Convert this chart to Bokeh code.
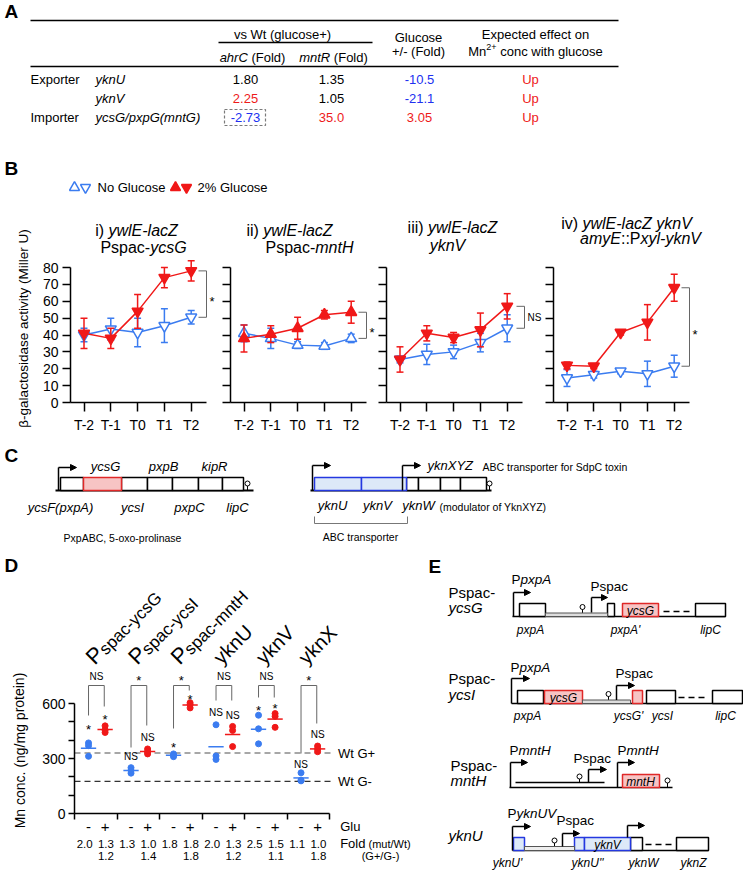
import math
from bokeh.plotting import figure
from bokeh.models import Range1d, LinearAxis, FixedTicker, ColumnDataSource, Arrow, NormalHead
from bokeh.core.properties import value, field
from bokeh.embed import file_html
from bokeh.resources import INLINE

# ======================= DATA =======================
# --- Panel A (table) ---
a_class = ["Exporter", "", "Importer"]
a_gene = ["yknU", "yknV", "ycsG/pxpG(mntG)"]
a_ahrC = ["1.80", "2.25", "-2.73"]
a_mntR = ["1.35", "1.05", "35.0"]
a_glucose = ["-10.5", "-21.1", "3.05"]
a_effect = ["Up", "Up", "Up"]
a_ahrC_sign = [0, 1, -1]
a_mntR_sign = [0, 0, 1]
a_glucose_sign = [-1, -1, 1]
a_effect_sign = [1, 1, 1]

# --- Panel B (beta-galactosidase, Miller U) ---
timepoints = ["T-2", "T-1", "T0", "T1", "T2"]
b_no_glc = [[40, 43.5, 41.5, 45.5, 50.5], [41, 38, 34, 33.5, 38],
            [25.5, 28.5, 30, 35.5, 44], [14.5, 16.5, 18.5, 17, 21.5]]
b_no_glc_err = [[4, 6.5, 8.5, 10, 4], [5, 6, 2, 2, 2.5],
                [2, 6, 4, 5.5, 8], [5, 2, 1.5, 7.5, 6.5]]
b_glc = [[41, 38, 54, 74, 78], [38, 40.5, 44, 52, 53.5],
         [25.5, 41, 38.5, 43, 57], [22, 21.5, 41.5, 47.5, 68]]
b_glc_err = [[9, 6, 10, 6, 6], [8, 5, 6.5, 2.5, 6.5],
             [7.5, 4.5, 3, 10, 7.5], [2, 1.5, 1.5, 10.5, 8]]
b_marker = ["inverted_triangle", "triangle", "inverted_triangle", "inverted_triangle"]
b_sig = ["*", "*", "NS", "*"]
b_yticks = [0, 10, 20, 30, 40, 50, 60, 70, 80]
b_title = [
    ([("i) ", "normal"), ("ywlE-lacZ", "italic")], [("Pspac-", "normal"), ("ycsG", "italic")]),
    ([("ii) ", "normal"), ("ywlE-lacZ", "italic")], [("Pspac-", "normal"), ("mntH", "italic")]),
    ([("iii) ", "normal"), ("ywlE-lacZ", "italic")], [("yknV", "italic")]),
    ([("iv) ", "normal"), ("ywlE-lacZ yknV", "italic")],
     [("amyE", "italic"), ("::P", "normal"), ("xyl-yknV", "italic")]),
]

# --- Panel D (Mn conc., ng/mg protein) ---
d_strain_P = ["P", "P", "P", "", "", ""]
d_strain = ["spac-ycsG", "spac-ycsI", "spac-mntH", "yknU", "yknV", "yknX"]
d_no_glc = [[385, 370, 312], [250, 235, 220], [325, 318, 310],
            [484, 314, 295], [536, 462, 380], [222, 182, 178]]
d_glc = [[478, 455, 442], [352, 337, 325], [604, 594, 576],
         [475, 453, 365], [545, 530, 470], [368, 352, 337]]
d_fold_minus = ["2.0", "1.3", "1.8", "2.0", "2.5", "1.1"]
d_fold_plus = ["1.3", "1.0", "1.8", "1.3", "1.5", "1.0"]
d_fold_g = ["1.2", "1.4", "1.8", "1.2", "1.1", "1.8"]
d_sig_top = ["NS", "*", "*", "NS", "NS", "*"]
d_sig_minus = ["*", "NS", "*", "NS", "*", "NS"]
d_sig_plus = ["*", "NS", "*", "NS", "*", "NS"]
d_wt_gplus = 330
d_wt_gminus = 175
d_yticks = [0, 100, 200, 300, 400, 500, 600]
d_ylabels = {100: "", 200: "", 400: "", 500: ""}

# ======================= STYLE =======================
FONT = "Liberation Sans"
BLUE = "#3b7cf0"
RED = "#f01818"
TBLUE = "#2030f0"
TRED = "#ee1a1a"
PINK_F, PINK_L = "#f7c4c4", "#e02828"
LB_F, LB_L = "#dde9f8", "#2438e0"

W, H = 743, 871
X0, Y0 = 0, 0

p = figure(width=W, height=H, x_range=Range1d(X0, X0 + W), y_range=Range1d(Y0 + H, Y0),
           x_axis_type=None, y_axis_type=None, toolbar_location=None,
           output_backend="svg", min_border=0, outline_line_color=None)
p.background_fill_color = "white"
p.border_fill_color = "white"

# ---------- Arial-like advance widths ----------
AW = dict(zip(" !\"#$%&'()*+,-./", [278, 278, 355, 556, 556, 889, 667, 191, 333, 333, 389, 584, 278, 333, 278, 278]))
AW.update({c: 556 for c in "0123456789"})
AW.update(dict(zip(":;<=>?@", [278, 278, 584, 584, 584, 556, 1015])))
AW.update(dict(zip("ABCDEFGHIJKLMNOPQRSTUVWXYZ",
                   [667, 667, 722, 722, 667, 611, 778, 722, 278, 500, 667, 556, 833, 722, 778, 667, 778, 722, 667, 611, 722, 667, 944, 667, 667, 611])))
AW.update(dict(zip("abcdefghijklmnopqrstuvwxyz",
                   [556, 556, 500, 556, 556, 278, 556, 556, 222, 222, 500, 222, 833, 556, 556, 556, 556, 333, 500, 278, 556, 500, 722, 500, 500, 500])))
AW["β"] = 572


def tw(s, size):
    return sum(AW.get(c, 556) for c in s) * size / 1000.0


TXT = {}


def put(x, y, s, size=13, style="normal", color="black", align="left", baseline="middle",
        angle=0.0, xr="default", yr="default"):
    d = TXT.setdefault((xr, yr), dict(x=[], y=[], text=[], size=[], style=[], color=[],
                                      align=[], baseline=[], angle=[]))
    d["x"].append(x); d["y"].append(y); d["text"].append(s)
    d["size"].append(f"{size}px"); d["style"].append(style); d["color"].append(color)
    d["align"].append(align); d["baseline"].append(baseline); d["angle"].append(angle)


def rich(x, y, segs, size=13, align="center", color="black", baseline="middle",
         xr="default", yr="default", unit=1.0):
    items = []
    for s in segs:
        txt, sty = s[0], s[1]
        sz = s[2] if len(s) > 2 else size
        dy = s[3] if len(s) > 3 else 0
        col = s[4] if len(s) > 4 else color
        items.append((txt, sty, sz, dy, col, tw(txt, sz)))
    total = sum(i[5] for i in items)
    off = total / 2 if align == "center" else (total if align == "right" else 0)
    cur = x - off / unit
    for txt, sty, sz, dy, col, w in items:
        lead = len(txt) - len(txt.lstrip(" "))
        shown = txt.strip(" ")
        if shown:
            put(cur + tw(" " * lead, sz) / unit, y + dy, shown, size=sz, style=sty, color=col,
                align="left", baseline=baseline, xr=xr, yr=yr)
        cur += w / unit


SEG = {}


def seg(x0, y0, x1, y1, color="black", width=1.5, dash="solid", xr="default", yr="default"):
    d = SEG.setdefault((color, width, dash, xr, yr), dict(x0=[], y0=[], x1=[], y1=[]))
    d["x0"].append(x0); d["y0"].append(y0); d["x1"].append(x1); d["y1"].append(y1)


BOX = {}


def box(l, r, t, b, fill="white", line="black", lw=1.5):
    d = BOX.setdefault((fill, line, lw), dict(l=[], r=[], t=[], b=[]))
    d["l"].append(l); d["r"].append(r); d["t"].append(t); d["b"].append(b)


PROM = dict(x=[], yb=[], yt=[], xe=[])


def promoter(x, yb, yt, xe):
    PROM["x"].append(x); PROM["yb"].append(yb); PROM["yt"].append(yt); PROM["xe"].append(xe)


TERM = dict(x=[], y=[])


def terminator(x, yb, h=5):
    seg(x, yb, x, yb - h, width=1)
    TERM["x"].append(x); TERM["y"].append(yb - h - 2)


# ---------- extra ranges ----------
XR, YR = {}, {}


def map_x(name, v0, px0, v1, px1):
    b = (px1 - px0) / (v1 - v0)
    XR[name] = Range1d(start=v0 + (X0 - px0) / b, end=v0 + (X0 + W - px0) / b)


def map_y(name, v0, py0, v1, py1):
    b = (py1 - py0) / (v1 - v0)
    YR[name] = Range1d(start=v0 + (Y0 + H - py0) / b, end=v0 + (Y0 - py0) / b)


def style_axis(a, labels=True, size="14px", tick_out=8):
    a.axis_line_width = 1.5
    a.axis_line_color = "black"
    a.major_tick_line_width = 1.5
    a.major_tick_line_color = "black"
    a.minor_tick_line_color = None
    a.major_tick_in = 0
    a.major_tick_out = tick_out
    a.major_label_text_font = FONT
    a.major_label_text_font_size = size
    a.major_label_text_color = "black" if labels else None


# ======================= PANEL LETTERS =======================
for L, lx, ly in (("A", 4, 11), ("B", 4, 168), ("C", 4, 455), ("D", 4, 565), ("E", 428, 566)):
    put(lx, ly, L, size=19, style="bold")

# ======================= PANEL A =======================
seg(30, 20, 618, 20, width=1.5)
seg(30, 66, 618, 66, width=1.5)
seg(218, 42, 372, 42, width=1.5)
put(282, 34, "vs Wt (glucose+)", size=13, align="center")
put(418, 37, "Glucose", size=13, align="center")
put(418, 51, "+/- (Fold)", size=13, align="center")
put(535, 34, "Expected effect on", size=13, align="center")
rich(535, 51, [("Mn", "normal"), ("2+", "normal", 9, -5), (" conc with glucose", "normal")], size=13)
rich(252, 57, [("ahrC", "italic"), (" (Fold)", "normal")], size=13)
rich(333, 57, [("mntR", "italic"), (" (Fold)", "normal")], size=13)


def sign_color(s):
    return TRED if s > 0 else (TBLUE if s < 0 else "black")


row_y = [79, 98, 117]
for i in range(3):
    y = row_y[i]
    put(30, y, a_class[i], size=13)
    put(95, y, a_gene[i], size=13, style="italic")
    put(245, y, a_ahrC[i], size=13, align="center", color=sign_color(a_ahrC_sign[i]))
    put(331, y, a_mntR[i], size=13, align="center", color=sign_color(a_mntR_sign[i]))
    put(419, y, a_glucose[i], size=13, align="center", color=sign_color(a_glucose_sign[i]))
    put(530, y, a_effect[i], size=13, align="center", color=sign_color(a_effect_sign[i]))
# dashed highlight box around the ahrC importer value
p.quad(left=[224], right=[265], top=[109], bottom=[125], fill_color=None,
       line_color="#7a7a7a", line_width=1.2, line_dash="3 2")

# ======================= PANEL B =======================
p.scatter([74, 85], [187, 187], marker=["triangle", "inverted_triangle"], size=10,
          fill_color="white", line_color=BLUE, line_width=1.5)
p.scatter([175, 186], [187, 187], marker=["triangle", "inverted_triangle"], size=10,
          fill_color=RED, line_color=RED, line_width=1.5)
put(97, 187, "No Glucose", size=13)
put(197, 187, "2% Glucose", size=13)
put(23, 328, "β-galactosidase activity (Miller U)", size=13.5, align="center", angle=math.pi / 2)

B_AXIS_X = [70, 230, 386, 553]
B_SPACING = 26.8
B_FIRST = 13.5
B_LEN = 136
title_pos = [((136, 230), (143, 247)), ((289, 230), (309, 247)),
             ((452, 227), (447, 245)), ((626, 223), (640, 238))]

for k in range(4):
    ax = B_AXIS_X[k]
    xn, yn = f"b{k}x", f"b{k}y"
    map_x(xn, 0, ax + B_FIRST, 4, ax + B_FIRST + 4 * B_SPACING)
    map_y(yn, 0, 402, 80, 267)

    (t1, t2) = b_title[k]
    rich(title_pos[k][0][0], title_pos[k][0][1], t1, size=16)
    rich(title_pos[k][1][0], title_pos[k][1][1], t2, size=16)

    xs = list(range(len(timepoints)))
    for vals, errs, col, fill in ((b_no_glc[k], b_no_glc_err[k], BLUE, "white"),
                                  (b_glc[k], b_glc_err[k], RED, RED)):
        lo = [v - e for v, e in zip(vals, errs)]
        hi = [v + e for v, e in zip(vals, errs)]
        p.line(xs, vals, line_color=col, line_width=1.5, x_range_name=xn, y_range_name=yn)
        p.segment(x0=xs, y0=lo, x1=xs, y1=hi, line_color=col, line_width=1.5,
                  x_range_name=xn, y_range_name=yn)
        cw = 0.13
        p.segment(x0=[x - cw for x in xs] * 2, y0=lo + hi, x1=[x + cw for x in xs] * 2, y1=lo + hi,
                  line_color=col, line_width=1.5, x_range_name=xn, y_range_name=yn)
        p.scatter(xs, vals, marker=b_marker[k], size=11, fill_color=fill, line_color=col,
                  line_width=1.5, x_range_name=xn, y_range_name=yn)

    yax = LinearAxis(x_range_name="default", y_range_name=yn, fixed_location=ax, bounds=(0, 80),
                     ticker=FixedTicker(ticks=b_yticks))
    style_axis(yax, labels=(k == 0), tick_out=8)
    yax.major_label_standoff = 4
    p.add_layout(yax, "left")
    xax = LinearAxis(x_range_name=xn, y_range_name="default", fixed_location=402,
                     bounds=(-B_FIRST / B_SPACING, (B_LEN - B_FIRST) / B_SPACING),
                     ticker=FixedTicker(ticks=xs),
                     major_label_overrides={i: t for i, t in enumerate(timepoints)})
    style_axis(xax, labels=True, tick_out=9)
    xax.major_label_standoff = 5
    p.add_layout(xax, "below")

    # significance bracket between T2 values
    bx = ax + B_LEN + [0, 0, 2, 0][k]
    top, bot = b_glc[k][-1], b_no_glc[k][-1]
    p.segment(x0=[bx, bx - 8, bx - 8], y0=[top, top, bot], x1=[bx, bx, bx], y1=[bot, top, bot],
              line_color="#666666", line_width=1, y_range_name=yn)
    mid = (top + bot) / 2
    if b_sig[k] == "*":
        put(bx + 3, mid, "*", size=13, yr=yn, baseline="top")
    else:
        put(bx + 3, mid, b_sig[k], size=10, yr=yn)

# ======================= PANEL C =======================
seg(55, 490, 253, 490, width=2)
edges = [60, 83, 121, 147, 172, 198, 222, 243]
for i in range(len(edges) - 1):
    if i == 1:
        box(edges[i], edges[i + 1], 477, 490, fill=PINK_F, line=PINK_L)
    else:
        box(edges[i], edges[i + 1], 477, 490)
promoter(58, 490, 467, 76)
terminator(247, 490)
for s, x in (("ycsG", 105), ("pxpB", 163), ("kipR", 214)):
    put(x, 466, s, size=13, style="italic", align="center")
for s, x in (("ycsF(pxpA)", 60), ("ycsI", 132), ("pxpC", 189), ("lipC", 237)):
    put(x, 507, s, size=13, style="italic", align="center")
put(122, 537, "PxpABC, 5-oxo-prolinase", size=10.5, align="center")

seg(310, 490, 491, 490, width=2)
box(314, 361, 477, 490, fill=LB_F, line=LB_L)
box(361, 406, 477, 490, fill=LB_F, line=LB_L)
for l, r in ((406, 418), (418, 440), (440, 460), (460, 486)):
    box(l, r, 477, 490)
promoter(312, 490, 465, 330)
promoter(402, 490, 465, 420)
terminator(489, 490)
put(427, 465, "yknXYZ", size=13, style="italic")
put(482, 466, "ABC transporter for SdpC toxin", size=10.5)
for s, x in (("yknU", 332), ("yknV", 377), ("yknW", 418)):
    put(x, 505, s, size=13, style="italic", align="center")
put(439, 506, "(modulator of YknXYZ)", size=10.5)
seg(314, 523, 407, 523, color="#777777", width=1)
seg(314, 523, 314, 516, color="#777777", width=1)
seg(407, 523, 407, 516, color="#777777", width=1)
put(360, 536, "ABC transporter", size=10.5, align="center")

# ======================= PANEL D =======================
D_GW = 42.5
map_x("dx", 0, 74, 6, 74 + 6 * D_GW)
map_y("dy", 0, 813, 600, 703)
OM, OP = 0.33, 0.72

put(19, 750, "Mn conc. (ng/mg protein)", size=14, align="center", angle=math.pi / 2)

dyax = LinearAxis(x_range_name="default", y_range_name="dy", fixed_location=74, bounds=(0, 600),
                  ticker=FixedTicker(ticks=d_yticks), major_label_overrides=d_ylabels)
style_axis(dyax, labels=True, tick_out=6)
dyax.major_label_standoff = 3
p.add_layout(dyax, "left")
dxax = LinearAxis(x_range_name="dx", y_range_name="default", fixed_location=813, bounds=(0, 6),
                  ticker=FixedTicker(ticks=list(range(7))))
style_axis(dxax, labels=False, tick_out=6)
p.add_layout(dxax, "below")

# reference lines (wild type)
p.segment(x0=[0, 0], y0=[d_wt_gplus, d_wt_gminus], x1=[6.1, 6.05], y1=[d_wt_gplus, d_wt_gminus],
          line_color=["#8a8a8a", "#333333"], line_width=1.3, line_dash="6 4",
          x_range_name="dx", y_range_name="dy")
put(6.2, d_wt_gplus, "Wt G+", size=13, xr="dx", yr="dy")
put(6.2, d_wt_gminus, "Wt G-", size=13, xr="dx", yr="dy")

th = math.radians(45)
ux, uy = math.cos(th), -math.sin(th)
nx, ny = math.sin(th), math.cos(th)
for g in range(6):
    xm, xp = g + OM, g + OP
    p.scatter([xm] * len(d_no_glc[g]), d_no_glc[g], size=6, fill_color=BLUE, line_color=BLUE,
              x_range_name="dx", y_range_name="dy")
    p.scatter([xp] * len(d_glc[g]), d_glc[g], size=6, fill_color=RED, line_color=RED,
              x_range_name="dx", y_range_name="dy")
    mb = sum(d_no_glc[g]) / len(d_no_glc[g])
    mr = sum(d_glc[g]) / len(d_glc[g])
    p.segment(x0=[xm - 0.18, xp - 0.18], y0=[mb, mr], x1=[xm + 0.18, xp + 0.18], y1=[mb, mr],
              line_color=[BLUE, RED], line_width=1.5, x_range_name="dx", y_range_name="dy")
    put(xm, 826, "-", size=15, align="center", xr="dx")
    put(xp, 826, "+", size=15, align="center", xr="dx")
    put(g + 0.24, 843, d_fold_minus[g], size=11.5, align="center", xr="dx")
    put(g + 0.74, 843, d_fold_plus[g], size=11.5, align="center", xr="dx")
    put(g + 0.74, 855, d_fold_g[g], size=11.5, align="center", xr="dx")

    # rotated strain labels
    x0u = g + 0.35
    if d_strain_P[g]:
        put(x0u, 660, d_strain_P[g], size=22, align="left", baseline="alphabetic", angle=th, xr="dx")
        dd = tw(d_strain_P[g], 22) + 0.5
        drop = 3
        put(x0u + (dd * ux + drop * nx) / D_GW, 660 + dd * uy + drop * ny, d_strain[g], size=17,
            align="left", baseline="alphabetic", angle=th, xr="dx")
    else:
        put(x0u, 660, d_strain[g], size=20, align="left", baseline="alphabetic", angle=th, xr="dx")

put(6.25, 826, "Glu", size=13, xr="dx")
rich(6.25, 843, [("Fold", "normal", 13), (" (mut/Wt)", "normal", 11)], align="left", xr="dx", unit=D_GW)
put(7.2, 855, "(G+/G-)", size=11, align="center", xr="dx")

# significance brackets (annotation positions in screen px)
br_lo_m = [715, 747, 728, 700, 697, 753]
br_lo_p = [706, 725, 690, 700, 697, 723]
lab_m = [725, 756, 743, 712, 706, 764]
lab_p = [715, 737, 695, 715, 704, 734]
for g in range(6):
    l, r = g + 0.33, g + 0.7
    seg(l, 685, r, 685, color="#666666", width=1, xr="dx")
    seg(l, 685, l, br_lo_m[g], color="#666666", width=1, xr="dx")
    seg(r, 685, r, br_lo_p[g], color="#666666", width=1, xr="dx")
    for s, xx, yy in ((d_sig_top[g], (l + r) / 2, 676), (d_sig_minus[g], g + OM, lab_m[g]),
                      (d_sig_plus[g], g + OP, lab_p[g])):
        if s == "*":
            put(xx, yy - 4, "*", size=13, align="center", baseline="top", xr="dx")
        else:
            put(xx, yy, s, size=10, align="center", xr="dx")

# ======================= PANEL E =======================
put(448, 592, "Pspac-", size=15)
put(448, 607, "ycsG", size=15, style="italic")
put(448, 678, "Pspac-", size=15)
put(448, 694, "ycsI", size=15, style="italic")
put(450, 765, "Pspac-", size=15)
put(450, 780, "mntH", size=15, style="italic")
put(448, 835, "yknU", size=15, style="italic")

# construct 1
seg(512, 616, 725, 616, width=1.5)
box(519, 545, 603, 616)
box(545, 607, 612.5, 616, fill="#dddddd", line="#555555", lw=1)
box(607, 614, 603, 616)
box(622, 658, 603, 616, fill=PINK_F, line=PINK_L)
seg(663, 611, 692, 611, width=1.5, dash="6 4")
box(695, 725, 603, 616)
promoter(513, 616, 592, 530)
promoter(591, 612, 597, 607)
terminator(582, 612.5, 4)
rich(511, 579, [("P", "normal"), ("pxpA", "italic")], size=13.5, align="left")
put(590, 586, "Pspac", size=13.5)
put(640, 610, "ycsG", size=12, style="italic", align="center")
for s, x in (("pxpA", 530), ("pxpA'", 625), ("lipC", 710)):
    put(x, 629, s, size=12, style="italic", align="center")

# construct 2
seg(511, 703, 742, 703, width=1.5)
box(517, 543, 690, 703)
box(544, 582, 690, 703, fill=PINK_F, line=PINK_L)
box(582, 630, 699.5, 703, fill="#dddddd", line="#555555", lw=1)
box(632, 642, 690, 703, fill=PINK_F, line=PINK_L)
box(646, 675, 690, 703)
seg(678, 697, 708, 697, width=1.5, dash="6 4")
box(712, 742, 690, 703)
promoter(511, 703, 678, 529)
promoter(616, 699.5, 685, 634)
terminator(608, 699.5, 4)
rich(510, 667, [("P", "normal"), ("pxpA", "italic")], size=13.5, align="left")
put(615, 673, "Pspac", size=13.5)
put(563, 697, "ycsG", size=12, style="italic", align="center")
for s, x in (("pxpA", 527), ("ycsG'", 628), ("ycsI", 662), ("lipC", 725)):
    put(x, 715, s, size=12, style="italic", align="center")

# construct 3
seg(509, 787, 672, 787, width=1.5)
seg(515, 782, 604, 782, width=1.5)
box(622, 659, 774, 787, fill=PINK_F, line=PINK_L)
promoter(510, 787, 762, 527)
promoter(588, 782, 769, 606)
promoter(617, 787, 762, 634)
terminator(579, 782, 4)
terminator(667, 787, 5)
rich(509, 750, [("P", "normal"), ("mntH", "italic")], size=13.5, align="left")
put(573, 758, "Pspac", size=13.5)
rich(617, 750, [("P", "normal"), ("mntH", "italic")], size=13.5, align="left")
put(640, 781, "mntH", size=12, style="italic", align="center")

# construct 4
seg(512, 850, 708, 850, width=1.5)
box(513, 524, 837, 850, fill=LB_F, line=LB_L)
box(524, 574, 846, 850, fill="#eeeeee", line="#555555", lw=1)
box(574, 584, 837, 850, fill=LB_F, line=LB_L)
box(584, 630, 837, 850, fill=LB_F, line=LB_L)
box(630, 642, 837, 850)
seg(645, 844, 673, 844, width=1.5, dash="6 4")
box(676, 708, 837, 850)
promoter(512, 850, 826, 530)
promoter(562, 846, 833, 579)
promoter(627, 837, 825, 644)
terminator(554, 846, 4)
rich(507, 813, [("P", "normal"), ("yknUV", "italic")], size=13.5, align="left")
put(556, 820, "Pspac", size=13.5)
put(607, 844, "yknV", size=12, style="italic", align="center")
for s, x in (("yknU'", 507), ("yknU''", 587), ("yknW", 643), ("yknZ", 693)):
    put(x, 862, s, size=12, style="italic", align="center")

# ======================= RENDER COLLECTED SHAPES =======================
p.extra_x_ranges = XR
p.extra_y_ranges = YR

for (c, w, dsh, xr_, yr_), d in SEG.items():
    p.segment(x0="x0", y0="y0", x1="x1", y1="y1", source=ColumnDataSource(d), line_color=c,
              line_width=w, line_dash=dsh, x_range_name=xr_, y_range_name=yr_)
for (f, lc, lw), d in BOX.items():
    p.quad(left="l", right="r", top="t", bottom="b", source=ColumnDataSource(d),
           fill_color=f, line_color=lc, line_width=lw)
p.segment(x0="x", y0="yb", x1="x", y1="yt", source=ColumnDataSource(PROM),
          line_color="black", line_width=1.5)
p.add_layout(Arrow(end=NormalHead(size=6, fill_color="black", line_color="black", line_width=1),
                   x_start="x", y_start="yt", x_end="xe", y_end="yt",
                   source=ColumnDataSource(PROM), line_color="black", line_width=1.5))
p.scatter("x", "y", source=ColumnDataSource(TERM), marker="circle", size=5,
          fill_color="white", line_color="black", line_width=1)

for (xr_, yr_), d in TXT.items():
    p.text(x="x", y="y", text="text", source=ColumnDataSource(d),
           text_font=value(FONT), text_font_size=field("size"), text_font_style=field("style"),
           text_color=field("color"), text_align=field("align"), text_baseline=field("baseline"),
           angle=field("angle"), x_range_name=xr_, y_range_name=yr_)

open("out.html", "w").write(file_html(p, INLINE))
